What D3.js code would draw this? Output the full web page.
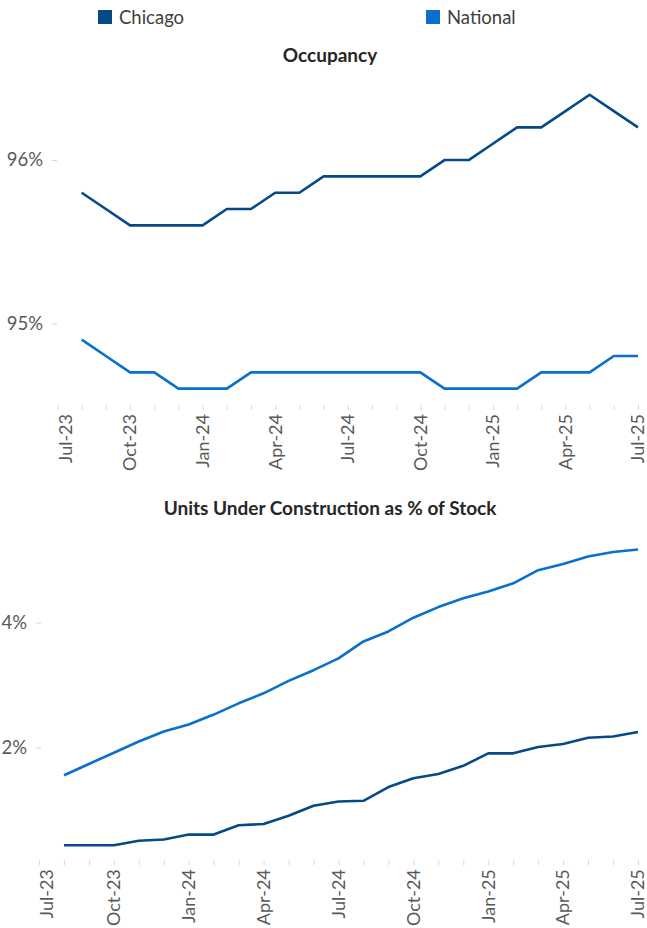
<!DOCTYPE html>
<html>
<head>
<meta charset="utf-8">
<script src="https://cdn.jsdelivr.net/npm/d3@7"></script>
<style>
  body { margin: 0; background: #fff; }
  svg { display: block; font-family: Lato, "Open Sans", sans-serif; }
</style>
</head>
<body>
<div id="chart"></div>
<script>
// months on the category axis (data starts Aug-23)
var months = ["Jul-23", "Aug-23", "Sep-23", "Oct-23", "Nov-23", "Dec-23", "Jan-24", "Feb-24", "Mar-24",
  "Apr-24", "May-24", "Jun-24", "Jul-24", "Aug-24", "Sep-24", "Oct-24", "Nov-24", "Dec-24",
  "Jan-25", "Feb-25", "Mar-25", "Apr-25", "May-25", "Jun-25", "Jul-25"];
var tickLabels = ["Jul-23", "Oct-23", "Jan-24", "Apr-24", "Jul-24", "Oct-24", "Jan-25", "Apr-25", "Jul-25"];
var seriesNames = ["Chicago", "National"];
var seriesColors = ["#054a87", "#0a70cc"];

// Occupancy (%), Aug-23 .. Jul-25
var chicagoOcc = [95.8, 95.7, 95.6, 95.6, 95.6, 95.6, 95.7, 95.7, 95.8, 95.8, 95.9, 95.9,
  95.9, 95.9, 95.9, 96.0, 96.0, 96.1, 96.2, 96.2, 96.3, 96.4, 96.3, 96.2];
var nationalOcc = [94.9, 94.8, 94.7, 94.7, 94.6, 94.6, 94.6, 94.7, 94.7, 94.7, 94.7, 94.7,
  94.7, 94.7, 94.7, 94.6, 94.6, 94.6, 94.6, 94.7, 94.7, 94.7, 94.8, 94.8];
var occTicks = [95, 96];

// Units under construction as % of stock, Aug-23 .. Jul-25
var chicagoUuc = [0.44, 0.44, 0.44, 0.51, 0.53, 0.61, 0.61, 0.76, 0.78, 0.91, 1.07, 1.14,
  1.15, 1.37, 1.51, 1.58, 1.71, 1.91, 1.91, 2.01, 2.06, 2.16, 2.18, 2.25];
var nationalUuc = [1.56, 1.74, 1.92, 2.10, 2.26, 2.37, 2.53, 2.71, 2.87, 3.07, 3.24, 3.43,
  3.70, 3.86, 4.08, 4.25, 4.39, 4.50, 4.63, 4.84, 4.94, 5.06, 5.13, 5.17];
var uucTicks = [2, 4];

var width = 647, height = 928;
var svg = d3.select("#chart").append("svg")
  .attr("width", width)
  .attr("height", height);

// legend
var legend = svg.append("g").selectAll("g")
  .data(seriesNames)
  .enter().append("g")
  .attr("transform", function (d, i) { return "translate(" + [98, 426][i] + ",10)"; });
legend.append("rect")
  .attr("width", 14).attr("height", 14)
  .attr("fill", function (d, i) { return seriesColors[i]; });
legend.append("text")
  .attr("x", 21).attr("y", 13.5)
  .attr("fill", "#404040")
  .style("font-size", "18.5px")
  .text(function (d) { return d; });

function drawPanel(opt) {
  var x = d3.scalePoint().domain(months).range([opt.left, 638]);
  var y = d3.scaleLinear().domain(opt.domain).range([opt.bottom, opt.top]);
  var g = svg.append("g");

  g.append("text")
    .attr("x", 330).attr("y", opt.titleY)
    .attr("text-anchor", "middle")
    .attr("fill", "#262626")
    .style("font-size", "19px")
    .style("font-weight", "bold")
    .text(opt.title);

  // y labels + small ticks
  var yAxis = g.append("g")
    .attr("transform", "translate(" + opt.yTickX + ",0)")
    .attr("font-family", null)
    .attr("font-size", null)
    .call(d3.axisLeft(y).tickValues(opt.ticks).tickSize(5).tickPadding(4)
      .tickFormat(function (d) { return d + "%"; }));
  yAxis.attr("font-family", null).attr("font-size", null);
  yAxis.select(".domain").remove();
  yAxis.selectAll(".tick line").attr("stroke", "#d9d9d9").attr("transform", "translate(5,0)");
  yAxis.selectAll("text").attr("fill", "#595959").style("font-size", "18.5px");

  // x axis: monthly ticks, quarterly labels, no line
  var xAxis = g.append("g")
    .attr("transform", "translate(0," + opt.bottom + ")")
    .call(d3.axisBottom(x).tickSize(5).tickFormat(""));
  xAxis.select(".domain").remove();
  xAxis.selectAll(".tick line").attr("stroke", "#d9d9d9");

  g.append("g").selectAll("text")
    .data(tickLabels)
    .enter().append("text")
    .attr("transform", function (d, i) {
      var px = x(d) + (i === 0 ? 8 : 0);
      return "translate(" + px + "," + (opt.bottom + 9) + ") rotate(-90)";
    })
    .attr("text-anchor", "end")
    .attr("dy", "0.35em")
    .attr("fill", "#595959")
    .style("font-size", "18px")
    .text(function (d) { return d; });

  var line = d3.line()
    .x(function (d, i) { return x(months[i + 1]); })
    .y(function (d) { return y(d); });

  g.append("g").selectAll("path")
    .data(opt.series)
    .enter().append("path")
    .attr("d", line)
    .attr("fill", "none")
    .attr("stroke", function (d, i) { return seriesColors[i]; })
    .attr("stroke-width", 2.6)
    .attr("stroke-linejoin", "round");
}

drawPanel({
  title: "Occupancy", titleY: 62,
  left: 57.5, top: 78.4, bottom: 405, domain: [94.5, 96.5],
  yTickX: 52, ticks: occTicks,
  series: [chicagoOcc, nationalOcc]
});

drawPanel({
  title: "Units Under Construction as % of Stock", titleY: 515,
  left: 39, top: 535.2, bottom: 860.2, domain: [0.2, 5.4],
  yTickX: 36, ticks: uucTicks,
  series: [chicagoUuc, nationalUuc]
});
</script>
</body>
</html>
